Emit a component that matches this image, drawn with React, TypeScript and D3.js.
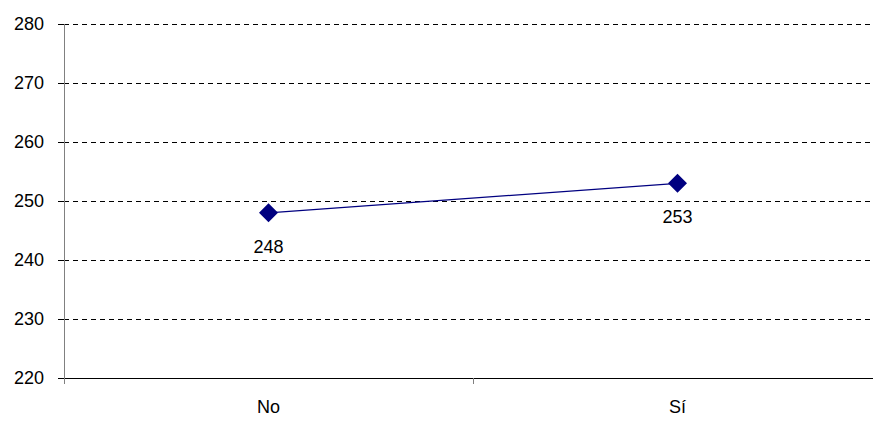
import React from "react";
import * as d3 from "d3";

const categories = ["No", "Sí"];
const values = [248, 253];
const yTicks = [220, 230, 240, 250, 260, 270, 280];

const W = 873;
const H = 421;
const M = { left: 64, top: 24, bottom: 43 };
const plotRight = 882;

export default function App() {
  const x = d3.scaleBand<string>().domain(categories).range([M.left, plotRight]);
  const y = d3.scaleLinear().domain([220, 280]).range([H - M.bottom, M.top]);
  const line = d3
    .line<number>()
    .x((_, i) => (x(categories[i]) as number) + x.bandwidth() / 2)
    .y((d) => y(d));
  const font = "'Liberation Sans', Arial, sans-serif";
  const s = 9.5;
  return (
    <svg
      width={W}
      height={H}
      style={{ position: "absolute", left: 0, top: 0, background: "#fff" }}
      fontFamily={font}
    >
      {yTicks.map((t) => (
        <g key={t}>
          {t !== 220 && (
            <line
              x1={M.left}
              x2={871}
              y1={Math.round(y(t)) + 0.5}
              y2={Math.round(y(t)) + 0.5}
              stroke="#000"
              strokeDasharray="5,4"
            />
          )}
          <line
            x1={58}
            x2={M.left}
            y1={Math.round(y(t)) + 0.5}
            y2={Math.round(y(t)) + 0.5}
            stroke="#000"
          />
          <text x={44} y={y(t)} dy="0.35em" textAnchor="end" fontSize={18} fill="#000">
            {t}
          </text>
        </g>
      ))}
      <line
        x1={M.left + 0.5}
        x2={M.left + 0.5}
        y1={M.top}
        y2={H - M.bottom + 6}
        stroke="#808080"
      />
      <line
        x1={M.left}
        x2={W}
        y1={Math.round(y(220)) + 0.5}
        y2={Math.round(y(220)) + 0.5}
        stroke="#000"
      />
      {[M.left, M.left + x.bandwidth(), plotRight].map((px, i) => (
        <line
          key={i}
          x1={Math.round(px) + 0.5}
          x2={Math.round(px) + 0.5}
          y1={y(220)}
          y2={y(220) + 6}
          stroke="#808080"
        />
      ))}
      {categories.map((c) => (
        <text
          key={c}
          x={(x(c) as number) + x.bandwidth() / 2}
          y={y(220) + 35}
          textAnchor="middle"
          fontSize={18}
          fill="#000"
        >
          {c}
        </text>
      ))}
      <path d={line(values) as string} fill="none" stroke="#000080" strokeWidth={1.2} />
      {values.map((v, i) => {
        const cx = (x(categories[i]) as number) + x.bandwidth() / 2;
        const cy = y(v);
        return (
          <g key={i}>
            <path
              d={`M${cx},${cy - s}L${cx + s},${cy}L${cx},${cy + s}L${cx - s},${cy}Z`}
              fill="#000080"
            />
            <text x={cx} y={cy + 40} textAnchor="middle" fontSize={18} fill="#000">
              {v}
            </text>
          </g>
        );
      })}
    </svg>
  );
}
